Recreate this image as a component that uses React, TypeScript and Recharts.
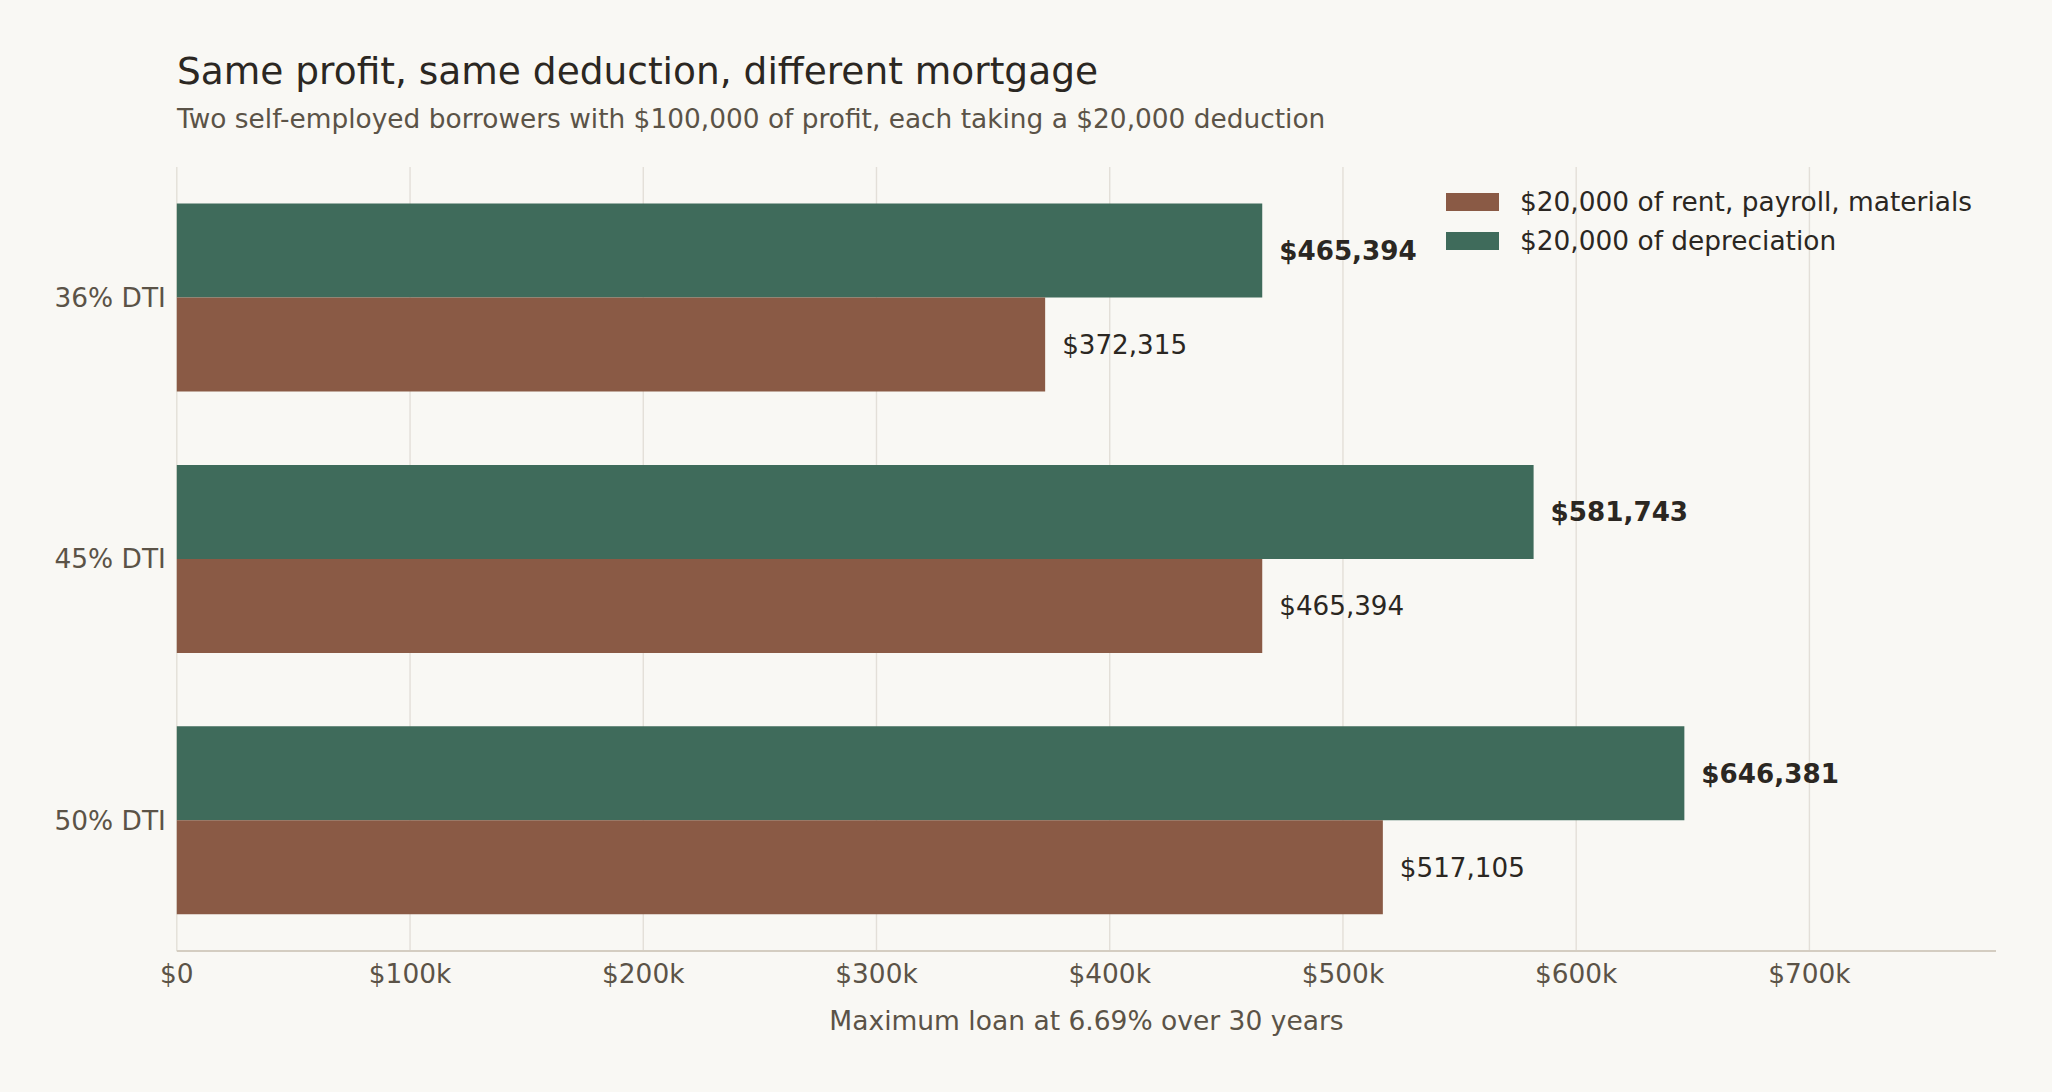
import { BarChart, Bar, XAxis, YAxis, CartesianGrid, LabelList } from "recharts";

// values
const categories = ["36% DTI", "45% DTI", "50% DTI"];
const depreciationLoan = [465394, 581743, 646381];
const expenseLoan = [372315, 465394, 517105];
const xTicks = [0, 100000, 200000, 300000, 400000, 500000, 600000, 700000];

const seriesNames = {
  expense: "$20,000 of rent, payroll, materials",
  depreciation: "$20,000 of depreciation",
};

const BG = "#f9f8f4";
const GREEN = "#3f6b5b";
const BROWN = "#8a5a45";
const INK = "#2b2722";
const MUTED = "#5b5347";
const FONT = "'DejaVu Sans', sans-serif";

const data = categories.map((name, i) => ({
  name,
  depreciation: depreciationLoan[i],
  expense: expenseLoan[i],
}));

const money = (v: number) => "$" + v.toLocaleString("en-US");
const tickMoney = (v: number) => (v === 0 ? "$0" : `$${v / 1000}k`);

export default function App() {
  return (
    <div
      style={{
        position: "absolute",
        left: 0,
        top: 0,
        width: 2052,
        height: 1092,
        background: BG,
        fontFamily: FONT,
        overflow: "hidden",
      }}
    >
      <div
        style={{
          position: "absolute",
          left: 177,
          top: 53,
          fontSize: 37.5,
          lineHeight: 1,
          color: INK,
          whiteSpace: "nowrap",
        }}
      >
        Same profit, same deduction, different mortgage
      </div>
      <div
        style={{
          position: "absolute",
          left: 177,
          top: 105.5,
          fontSize: 26.4,
          lineHeight: 1,
          color: MUTED,
          whiteSpace: "nowrap",
        }}
      >
        Two self-employed borrowers with $100,000 of profit, each taking a $20,000 deduction
      </div>

      <div style={{ position: "absolute", left: 0, top: 0 }}>
        <BarChart
          width={2052}
          height={1092}
          data={data}
          layout="vertical"
          margin={{ top: 167, right: 56, bottom: 101, left: 6 }}
          barCategoryGap="14%"
          barGap={0}
          style={{ fontFamily: FONT }}
        >
          <CartesianGrid
            horizontal={false}
            verticalValues={xTicks}
            stroke="#e3dfd8"
            strokeWidth={1.4}
          />
          <XAxis
            type="number"
            domain={[0, 780000]}
            ticks={xTicks}
            tickFormatter={tickMoney}
            height={40}
            tickLine={false}
            tickSize={0}
            tickMargin={13}
            axisLine={{ stroke: "#d4cdc1", strokeWidth: 2 }}
            tick={{ fill: MUTED, fontSize: 26.4 }}
          />
          <YAxis
            type="category"
            dataKey="name"
            width={170.8}
            axisLine={false}
            tickLine={false}
            tickSize={0}
            tickMargin={11}
            tick={{ fill: MUTED, fontSize: 26.4 }}
          />
          <Bar dataKey="depreciation" fill={GREEN} isAnimationActive={false}>
            <LabelList
              dataKey="depreciation"
              position="right"
              offset={17}
              formatter={(v: any) => money(Number(v))}
              fill={INK}
              fontSize={26.2}
              fontWeight={700}
            />
          </Bar>
          <Bar dataKey="expense" fill={BROWN} isAnimationActive={false}>
            <LabelList
              dataKey="expense"
              position="right"
              offset={17}
              formatter={(v: any) => money(Number(v))}
              fill={INK}
              fontSize={26.2}
            />
          </Bar>
        </BarChart>
      </div>

      {/* legend */}
      <div style={{ position: "absolute", left: 1446, top: 182 }}>
        {[
          { name: seriesNames.expense, color: BROWN },
          { name: seriesNames.depreciation, color: GREEN },
        ].map((s) => (
          <div
            key={s.name}
            style={{ display: "flex", alignItems: "center", height: 39 }}
          >
            <span
              style={{
                display: "inline-block",
                width: 53,
                height: 18,
                background: s.color,
                marginRight: 21,
              }}
            />
            <span style={{ fontSize: 26.4, color: INK, whiteSpace: "nowrap" }}>
              {s.name}
            </span>
          </div>
        ))}
      </div>

      <div
        style={{
          position: "absolute",
          left: 177,
          width: 1819,
          top: 1007.5,
          textAlign: "center",
          fontSize: 26.5,
          lineHeight: 1,
          color: MUTED,
        }}
      >
        Maximum loan at 6.69% over 30 years
      </div>
    </div>
  );
}
